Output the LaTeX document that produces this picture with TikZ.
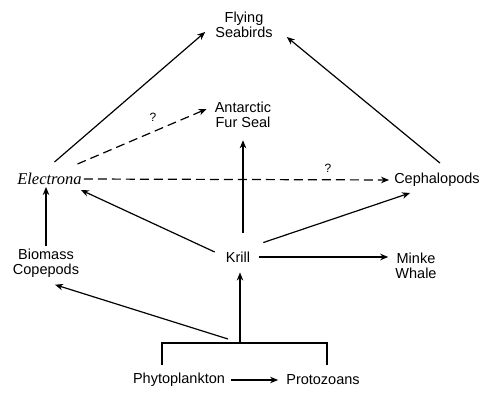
\documentclass[tikz,border=0pt]{standalone}
\usepackage{fontspec}
\setmainfont{Liberation Sans}
\newfontfamily\taxonfont{Liberation Serif}
\usetikzlibrary{arrows.meta}
\begin{document}
\begin{tikzpicture}[x=1pt,y=-1pt,nodes={align=center,inner sep=2pt,font=\fontsize{14.5pt}{15.5pt}\selectfont}, feed/.style={-{Stealth[length=8pt,width=6.5pt,inset=2.5pt]},line width=1.2pt}, guess/.style={feed,dash pattern=on 9pt off 5pt}, query/.style={inner sep=0pt,font=\fontsize{12pt}{12pt}\selectfont}]
\useasboundingbox (0,0) rectangle (481,393);
\node (seabirds) at (244,25) {Flying\\Seabirds};
\node (furseal) at (243,115) {Antarctic\\Fur Seal};
\node (electrona) at (49.5,179) {\taxonfont\itshape\fontsize{16.5pt}{17pt}\selectfont Electrona};
\node (cephalo) at (437,180) {Cephalopods};
\node (copepods) at (46,263) {Biomass\\Copepods};
\node (krill) at (238,257) {Krill};
\node (minke) at (416,266) {Minke\\Whale};
\node (phyto) at (179,380) {Phytoplankton};
\node (proto) at (323,380) {Protozoans};
\node[query] (q1) at (153,117) {?};
\node[query] (q2) at (328,168) {?};
\coordinate (brL) at (162,365);
\coordinate (brLt) at (162,343);
\coordinate (brRt) at (327,343);
\coordinate (brR) at (327,365);
\coordinate (brA) at (228,339);
\coordinate (brB) at (240,343);
\draw[line width=1.1pt] (brL) -- (brLt) -- (brRt) -- (brR);
\draw[feed] ([xshift=5pt,yshift=9pt]electrona.north) -- ([xshift=-8pt,yshift=-7pt]seabirds.west);
\draw[feed] ([xshift=3pt,yshift=8pt]cephalo.north) -- ([xshift=12pt,yshift=-12pt]seabirds.east);
\draw[guess] ([xshift=28pt,yshift=7pt]electrona.north) -- ([xshift=-6pt,yshift=6pt]furseal.west);
\draw[guess,shorten >=3pt] (electrona.east) -- (cephalo.west);
\draw[feed] ([xshift=5pt,yshift=17pt]krill.north) -- ([yshift=-10pt]furseal.south);
\draw[feed] ([xshift=-9pt,yshift=5pt]krill.west) -- ([xshift=-3pt,yshift=-3pt]electrona.south east);
\draw[feed] ([xshift=11pt,yshift=7pt]krill.north east) -- ([xshift=18pt,yshift=-4pt]cephalo.south west);
\draw[feed,shorten <=7pt,shorten >=5pt] (krill.east) -- (krill.east -| minke.west);
\draw[feed] (copepods.north) -- (copepods.north |- electrona.south);
\draw[feed] (brA) -- ([xshift=9pt,yshift=-5pt]copepods.south);
\draw[feed,shorten >=8pt] (brB) -- (brB |- krill.south);
\draw[feed,shorten <=4pt,shorten >=6pt] (phyto.east) -- (proto.west);
\end{tikzpicture}
\end{document}
